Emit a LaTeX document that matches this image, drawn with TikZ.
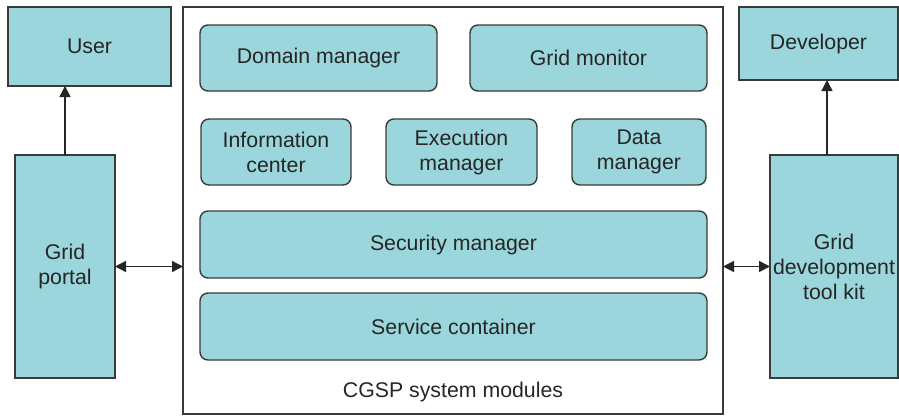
\documentclass[tikz,border=0pt]{standalone}
\usepackage{fontspec}
\setmainfont{Liberation Sans}
\usepackage{xcolor}
\usetikzlibrary{arrows.meta,calc}

\definecolor{cian}{HTML}{9AD6DB}
\definecolor{borde}{HTML}{3A3A3A}

\begin{document}
\begin{tikzpicture}[x=1pt, y=-1pt,
  caja/.style={draw=borde, fill=cian, line width=1.4pt, align=center,
               inner sep=2pt, outer sep=0pt, text=black!85,
               font=\fontsize{21.3}{25}\selectfont},
  modulo/.style={caja, rounded corners=8pt, minimum height=66pt},
  marco/.style={draw=borde, line width=1.2pt, outer sep=0pt},
  punta/.tip={Triangle[length=11pt, width=11pt]},
  flecha/.style={-punta, line width=1.3pt, draw=black!85},
  doble/.style={punta-punta, line width=1.3pt, draw=black!85},
  nota/.style={font=\fontsize{21.3}{25}\selectfont, text=black!85},
]
  \useasboundingbox (0,0) rectangle (899,415);

  % CGSP frame
  \node[marco, minimum width=540pt, minimum height=407pt] (cgsp) at (453,210.5) {};
  \node[nota] (titulo) at (453,392) {CGSP system modules};

  % modules
  \node[modulo, minimum width=237pt] (domain)  at (318.5,58) {Domain manager};
  \node[modulo, minimum width=237pt] (monitor) at (588.5,58) {Grid monitor};
  \node[modulo, minimum width=150pt] (info)    at (276,152)  {Information\\center};
  \node[modulo, minimum width=151pt] (exec)    at (461.5,152) {Execution\\manager};
  \node[modulo, minimum width=134pt] (data)    at (639,152)  {Data\\manager};
  \node[modulo, minimum width=507pt, minimum height=67pt]
    (security) at (453.5,244.5) {Security manager};
  \node[modulo, minimum width=507pt, minimum height=67pt]
    (service)  at (453.5,326.5) {Service container};

  % outside
  \node[caja, minimum width=163pt, minimum height=79pt]  (user)   at (89.5,46.5)  {User};
  \node[caja, minimum width=159pt, minimum height=73pt]  (dev)    at (818.5,43.5) {Developer};
  \node[caja, minimum width=100pt, minimum height=223pt] (portal) at (65,266.5)   {Grid\\portal};
  \node[caja, minimum width=128pt, minimum height=223pt] (kit)    at (834,266.5)  {Grid\\development\\tool kit};

  \draw[flecha] (portal.north) -- (portal.north |- user.south);
  \draw[flecha] ([xshift=-7pt]kit.north) -- ([xshift=-7pt]kit.north |- dev.south);
  \draw[doble]  (portal.east) -- (portal.east -| cgsp.west);
  \draw[doble]  (kit.west)    -- (kit.west -| cgsp.east);
\end{tikzpicture}
\end{document}
